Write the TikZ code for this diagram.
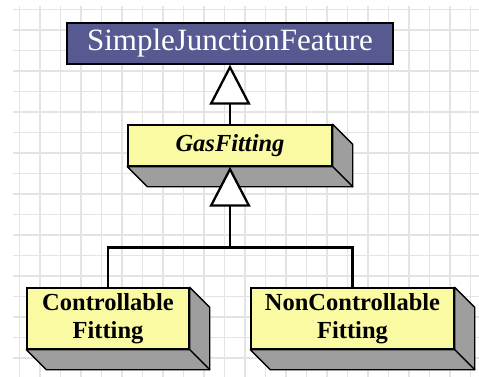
\documentclass[tikz,border=0pt]{standalone}
\usepackage{fontspec}
\setmainfont{Liberation Serif}
\usetikzlibrary{arrows.meta}
\definecolor{classblue}{RGB}{86,90,145}
\definecolor{classyellow}{RGB}{250,250,162}
\definecolor{sidegray}{RGB}{158,158,158}
\definecolor{gridgray}{RGB}{228,228,228}
\begin{document}
\begin{tikzpicture}[x=1pt,y=-1pt,
  rootbox/.style={draw=black,line width=1.4pt,fill=classblue,text=white,
    minimum width=326pt,minimum height=41pt,inner sep=0pt,
    font=\fontsize{31}{33}\selectfont},
  frontbox/.style={draw=black,line width=1.4pt,fill=classyellow,
    inner sep=0pt,align=center,font=\bfseries\fontsize{24.5}{28}\selectfont},
  extrude/.style={draw=black,line width=1.4pt,fill=sidegray,line join=round},
  link/.style={draw=black,line width=2.3pt},
  inherit/.style={link,-{Triangle[length=40pt,width=41pt,fill=white,line join=miter]}}
]
\useasboundingbox (0,0) rectangle (479,377);
\fill[white] (0,0) rectangle (479,377);
% background grid
\begin{scope}
  \clip (13,6) rectangle (479,377);
  \foreach \i in {0,...,22} {
    \draw[gridgray,line width=1.3pt] (19.5+20.5*\i,6) -- (19.5+20.5*\i,377);
  }
  \foreach \i in {0,...,18} {
    \draw[gridgray,line width=1.3pt] (13,9.5+20.5*\i) -- (479,9.5+20.5*\i);
  }
\end{scope}

% class boxes (front faces)
\node[rootbox] (sjf) at (230,43.5) {SimpleJunctionFeature};
\node[frontbox,minimum width=204pt,minimum height=41pt,
  font=\bfseries\itshape\fontsize{24.5}{28}\selectfont] (gas) at (230,145.5) {GasFitting};
\node[frontbox,minimum width=162pt,minimum height=61pt] (ctrl) at (108,318.5)
  {Controllable\\Fitting};
\node[frontbox,minimum width=203pt,minimum height=61pt] (nonctrl) at (352.5,318.5)
  {NonControllable\\Fitting};

% extruded sides and bottoms of the yellow boxes
\foreach \n in {gas,ctrl,nonctrl} {
  \draw[extrude] (\n.north east) -- ++(20,20) -- ([shift={(20,20)}]\n.south east)
    -- (\n.south east) -- cycle;
  \draw[extrude] (\n.south west) -- (\n.south east) -- ++(20,20)
    -- ([shift={(20,20)}]\n.south west) -- cycle;
}

% generalisation links
\coordinate (junction) at (230,247.5);
\draw[link,line join=miter] (ctrl.north) |- (junction) -| (nonctrl.north);
\draw[inherit] (junction) -- (gas.south);
\draw[inherit] (gas.north) -- (sjf.south);
\end{tikzpicture}
\end{document}
